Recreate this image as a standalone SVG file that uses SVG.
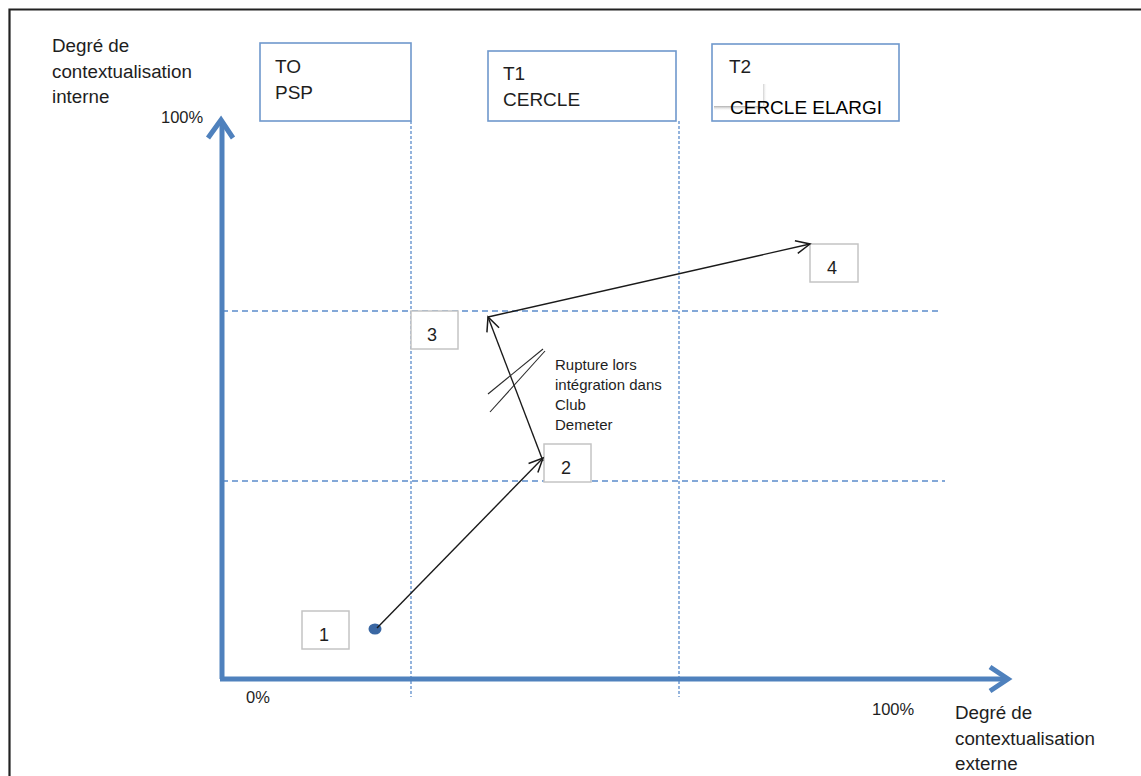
<svg xmlns="http://www.w3.org/2000/svg" width="1141" height="776" viewBox="0 0 1141 776">
<defs>
<style>
.t{font-family:"Liberation Sans",Arial,sans-serif;fill:#1e1e1e}
.lab{font-size:18.8px}
.pct{font-size:16.5px}
.box{fill:#fff;stroke:#6f98cc;stroke-width:1.6}
.bt{font-size:19px}
.num{fill:#fff;stroke:#c4c4c4;stroke-width:1.5}
.nt{font-size:18px;text-anchor:middle}
.axis{fill:none;stroke:#4f81bd;stroke-width:5}
.chev{fill:none;stroke:#4f81bd;stroke-width:5;stroke-linejoin:miter}
.dh{stroke:#5b8ccb;stroke-width:1.3;stroke-dasharray:6 4;fill:none}
.dv{stroke:#5b8ccb;stroke-width:1.3;stroke-dasharray:3 2;fill:none}
.arr{stroke:#1a1a1a;stroke-width:1.4;fill:none;marker-end:url(#ah)}
.small{font-size:15px}
</style>
<linearGradient id="shb" x1="0" y1="0" x2="0" y2="1">
<stop offset="0" stop-color="#8a8a8a" stop-opacity="0.7"/>
<stop offset="1" stop-color="#ffffff" stop-opacity="0"/>
</linearGradient>
<linearGradient id="shr" x1="0" y1="0" x2="1" y2="0">
<stop offset="0" stop-color="#b0b0b0" stop-opacity="0.6"/>
<stop offset="1" stop-color="#ffffff" stop-opacity="0"/>
</linearGradient>
<marker id="ah" markerUnits="userSpaceOnUse" markerWidth="30" markerHeight="30" viewBox="-20 -10 30 20" refX="0" refY="0" orient="auto" overflow="visible">
<path d="M-14,-6.5 L0,0 L-14,6.5" fill="none" stroke="#1a1a1a" stroke-width="1.5"/>
</marker>
</defs>
<rect width="1141" height="776" fill="#fff"/>
<path d="M9.5,776 V9.5 H1141" fill="none" stroke="#222" stroke-width="2.2"/>

<g id="grid">
<line class="dv" x1="411" y1="121" x2="411" y2="697"/>
<line class="dv" x1="679" y1="121" x2="679" y2="697"/>
<line class="dh" x1="222" y1="311" x2="938" y2="311"/>
<line class="dh" x1="222" y1="481" x2="945" y2="481"/>
</g>

<g id="axes">
<path class="axis" d="M222,679 V122"/>
<path class="chev" d="M208,138 L221,120 L233,138"/>
<path class="axis" d="M220,679 H1006"/>
<path class="chev" d="M990,667 L1008,679 L990,691"/>
<text class="t lab" x="52" y="52">Degré de</text>
<text class="t lab" x="52" y="78">contextualisation</text>
<text class="t lab" x="52" y="103">interne</text>
<text class="t pct" x="161" y="123">100%</text>
<text class="t pct" x="246" y="703">0%</text>
<text class="t pct" x="872" y="715">100%</text>
<text class="t lab" x="955" y="719">Degré de</text>
<text class="t lab" x="955" y="745">contextualisation</text>
<text class="t lab" x="955" y="770">externe</text>
</g>

<g id="T0">
<rect class="box" x="260" y="43" width="151" height="78"/>
<text class="t bt" x="275" y="73">TO</text>
<text class="t bt" x="275" y="99">PSP</text>
</g>
<g id="T1">
<rect class="box" x="488" y="51" width="188" height="70"/>
<text class="t bt" x="503" y="80">T1</text>
<text class="t bt" x="503" y="106">CERCLE</text>
</g>
<g id="T2">
<rect class="box" x="712" y="44" width="187" height="77"/>
<text class="t bt" x="729" y="73">T2</text>
<rect x="714" y="106" width="49" height="5" fill="url(#shb)"/>
<rect x="763" y="84" width="4" height="24" fill="url(#shr)"/>
<text class="t bt" x="730" y="114" style="fill:#000">CERCLE ELARGI</text>
</g>

<g id="n1">
<rect class="num" x="302" y="611" width="47" height="38"/>
<text class="t nt" x="324" y="641">1</text>
</g>
<g id="n2">
<rect class="num" x="544" y="444" width="47" height="38"/>
<text class="t nt" x="566" y="474">2</text>
</g>
<g id="n3">
<rect class="num" x="411" y="311" width="47" height="38"/>
<text class="t nt" x="432" y="341">3</text>
</g>
<g id="n4">
<rect class="num" x="810" y="244" width="48" height="38"/>
<text class="t nt" x="832" y="274">4</text>
</g>

<g id="start">
<ellipse cx="375" cy="629" rx="6.5" ry="5.5" fill="#3a67a3"/>
</g>

<g id="connectors">
<line class="arr" x1="377" y1="628" x2="543" y2="458"/>
<line class="arr" x1="543" y1="461" x2="488" y2="317"/>
<line class="arr" x1="488" y1="317" x2="810" y2="244"/>
<line x1="488" y1="394" x2="543" y2="349" stroke="#2a2a2a" stroke-width="1.1"/>
<line x1="490" y1="412" x2="545" y2="351" stroke="#2a2a2a" stroke-width="1.1"/>
</g>

<g id="rupture">
<text class="t small" x="555" y="370">Rupture lors</text>
<text class="t small" x="555" y="390">intégration dans</text>
<text class="t small" x="555" y="410">Club</text>
<text class="t small" x="555" y="430">Demeter</text>
</g>
</svg>
